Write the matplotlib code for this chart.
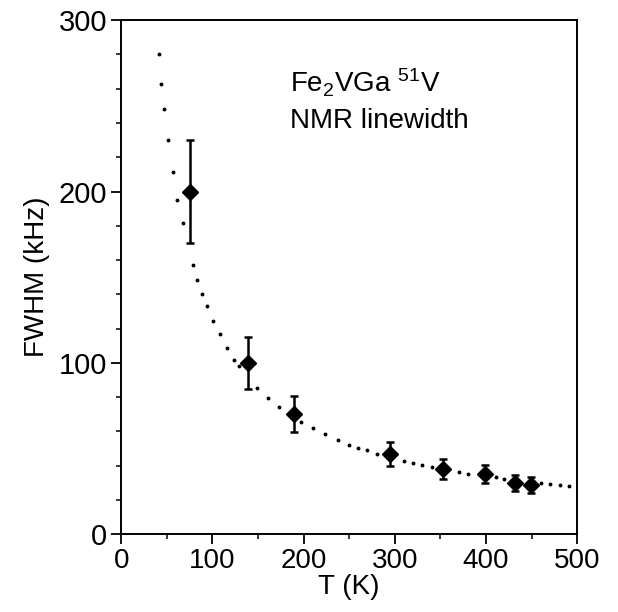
'''
FWHM of the 51V NMR line in Fe2VGa vs temperature, with dotted fit curve
'''
import matplotlib
matplotlib.use("Agg")
import matplotlib.pyplot as plt
from matplotlib.ticker import MultipleLocator

plt.rcParams["font.family"] = ["Liberation Sans", "DejaVu Sans"]
plt.rcParams["mathtext.fontset"] = "custom"
plt.rcParams["mathtext.rm"] = "Liberation Sans"
plt.rcParams["mathtext.it"] = "Liberation Sans:italic"

# measured linewidths
temps = [76, 139, 189, 295, 353, 399, 432, 449]
fwhm = [200, 100, 70, 47, 38, 35, 30, 29]
fwhm_err = [30, 15, 10.5, 7, 6, 5.3, 4.8, 4.7]

# dotted fit curve
fit_T = [41.4, 44.2, 47.5, 51.9, 57.1, 61.8, 67.3, 78.7, 83.4, 88.6,
         93.6, 100.2, 107.9, 115.6, 123.7, 128.8, 149.3, 161.0, 173.1,
         197.3, 210.0, 223.6, 237.5, 249.5, 259.8, 269.7, 280.2, 310.3,
         319.8, 329.6, 340.3, 370.2, 379.8, 410.5, 420.1, 460.3, 470.1,
         480.8, 491.0]
fit_fwhm = [280.0, 262.7, 247.9, 230.0, 211.2, 195.0, 181.4, 157.0, 148.3,
            140.1, 133.1, 124.2, 116.6, 108.6, 101.8, 98.1, 85.4, 79.4,
            74.1, 65.4, 62.1, 58.4, 55.3, 52.3, 50.6, 48.9, 47.1, 43.0,
            41.6, 40.3, 39.3, 36.4, 35.4, 33.3, 32.3, 29.8, 29.4, 29.0,
            28.4]

fig = plt.figure(figsize=(6.18, 6.12), dpi=100)
ax = fig.add_axes([0.196, 0.127, 0.738, 0.840])

ax.plot(fit_T, fit_fwhm, ls="none", marker="o", ms=1.8, color="black")
ax.errorbar(temps, fwhm, yerr=fwhm_err, fmt="D", ms=8.5, color="black",
            elinewidth=1.8, capsize=2.8, capthick=1.8)

ax.set_xlim(0, 500)
ax.set_ylim(0, 300)
ax.xaxis.set_major_locator(MultipleLocator(100))
ax.xaxis.set_minor_locator(MultipleLocator(50))
ax.yaxis.set_major_locator(MultipleLocator(100))
ax.yaxis.set_minor_locator(MultipleLocator(20))
ax.tick_params(which="major", direction="out", length=7, width=1.3,
               labelsize=20, pad=3, top=False, right=False)
ax.tick_params(which="minor", direction="out", length=3.5, width=1.1,
               top=False, right=False)
ax.tick_params(axis="y", labelsize=21)
for sp in ax.spines.values():
    sp.set_linewidth(1.4)

ax.set_xlabel("T (K)", fontsize=20, labelpad=0)
ax.set_ylabel("FWHM (kHz)", fontsize=20, labelpad=6)

ax.text(0.37, 0.86, r"Fe$_2$VGa $^{51}$V", transform=ax.transAxes, fontsize=20)
ax.text(0.37, 0.79, "NMR linewidth", transform=ax.transAxes, fontsize=20)

fig.savefig("out.png", dpi=100)
